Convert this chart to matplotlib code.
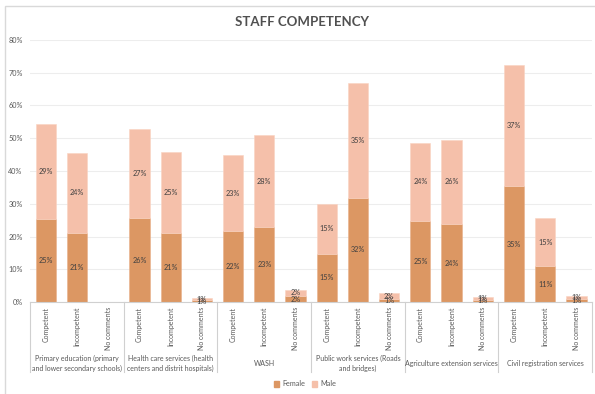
import matplotlib
matplotlib.use('Agg')
from matplotlib import pyplot as plt
from matplotlib.patches import Rectangle, Patch
import matplotlib.transforms as mtransforms
import numpy as np

plt.rcParams['font.family'] = ['Lato', 'DejaVu Sans']

groups = ['Primary education (primary\nand lower secondary schools)',
          'Health care services (health\ncenters and distrit hospitals)',
          'WASH',
          'Public work services (Roads\nand bridges)',
          'Agriculture extension services',
          'Civil registration services']
answers = ['Competent', 'Incompetent', 'No comments']

female = [25.3, 21.2, 0, 25.6, 21.2, 0.55, 21.6, 22.8, 1.8,
          14.7, 31.8, 1.0, 24.8, 23.8, 0.7, 35.3, 10.9, 0.9]
male = [28.9, 24.2, 0, 27.2, 24.6, 0.55, 23.3, 28.2, 1.9,
        15.2, 35.2, 1.6, 23.8, 25.7, 0.7, 37.0, 14.6, 0.9]

c_female = '#DC9763'
c_male = '#F5C0AA'
grey = '#595959'

W, H = 595, 394
fig = plt.figure(figsize=(W / 100, H / 100), dpi=100)
fig.patches.append(Rectangle((5 / W, -0.05), 1.2, 1 - 6 / H + 0.05,
                             transform=fig.transFigure, fill=False,
                             edgecolor='#D9D9D9', linewidth=1))

ax = fig.add_axes([30.2 / W, 1 - 302 / H, (592 - 30.2) / W, 262 / H])
n = len(female)
x = np.arange(n)
female = np.array(female)
male = np.array(male)

ax.bar(x, female, width=0.65, color=c_female, edgecolor='#E8B08A', linewidth=0.4, zorder=2)
ax.bar(x, male, width=0.65, bottom=female, color=c_male, edgecolor='#F9D3C2',
       linewidth=0.4, zorder=2)

for i in range(n):
    if female[i] > 0:
        ax.text(x[i], female[i] / 2, f'{female[i]:.0f}%', ha='center', va='center',
                fontsize=5.2, color='#404040', zorder=3)
    if male[i] > 0:
        ax.text(x[i], female[i] + male[i] / 2, f'{male[i]:.0f}%', ha='center',
                va='center', fontsize=5.2, color='#404040', zorder=3)

ax.set_xlim(-0.5, n - 0.5)
ax.set_ylim(0, 80)
ax.set_yticks(np.arange(0, 81, 10))
ax.set_yticklabels([f'{v}%' for v in range(0, 81, 10)])
ax.tick_params(axis='y', length=0, labelsize=5.2, labelcolor=grey, pad=5.5)
ax.set_xticks([])
ax.grid(axis='y', color='#EDEDED', linewidth=0.8, zorder=0)
for s in ['top', 'right', 'left']:
    ax.spines[s].set_visible(False)
ax.spines['bottom'].set_color('#D0D0D0')
ax.spines['bottom'].set_linewidth(0.8)

trans = mtransforms.blended_transform_factory(ax.transData, ax.transAxes)
for i in range(n):
    ax.text(x[i], -0.019, answers[i % 3], rotation=90, ha='center', va='top',
            fontsize=5.0, color=grey, transform=trans)
for g in range(len(groups)):
    ax.text(g * 3 + 1, -0.235, groups[g], ha='center', va='center', fontsize=5.0,
            color=grey, transform=trans, linespacing=1.4)
for b in range(len(groups) + 1):
    ax.plot([b * 3 - 0.5, b * 3 - 0.5], [0, -0.267], color='#D0D0D0', linewidth=0.8,
            transform=trans, clip_on=False)

fig.text(302 / W, 1 - 22 / H, 'STAFF COMPETENCY', ha='center', va='center',
         fontsize=9.5, fontweight='bold', color='#505050')

handles = [Patch(color=c_female, label='Female'), Patch(color=c_male, label='Male')]
fig.legend(handles=handles, loc='center', bbox_to_anchor=(305 / W, 1 - 384 / H),
           ncol=2, frameon=False, fontsize=5.2, handlelength=0.7, handleheight=0.7,
           handletextpad=0.4, columnspacing=1.0, labelcolor=grey)

fig.savefig('out.png', dpi=100)
